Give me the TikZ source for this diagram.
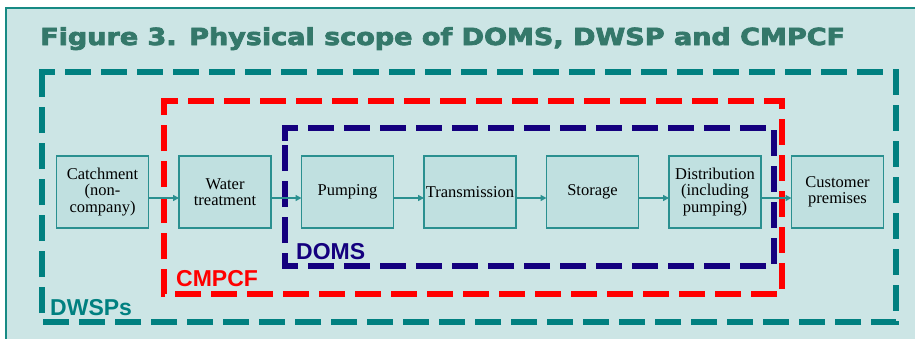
\documentclass[tikz,border=0pt]{standalone}
\usepackage{fontspec}
\setmainfont{Liberation Serif}
\newfontfamily\titlefont{DejaVu Sans}[FakeBold=3]
\newfontfamily\scopefont{Liberation Sans}
\usetikzlibrary{arrows.meta,positioning}
\definecolor{panel}{HTML}{CCE5E5}
\definecolor{frame}{HTML}{178A84}
\definecolor{titletext}{HTML}{34786A}
\definecolor{dwsp}{HTML}{008080}
\definecolor{cmpcf}{HTML}{FF0000}
\definecolor{doms}{HTML}{14007E}
\definecolor{stagefill}{HTML}{C0E0E0}
\definecolor{stageline}{HTML}{2A9090}

\begin{document}
\begin{tikzpicture}[x=1pt,y=-1pt,
  stage/.style={draw=stageline,line width=1.2pt,fill=stagefill,minimum width=92pt,
    minimum height=72pt,inner sep=0pt,outer sep=0pt,text width=90pt,align=center,
    font=\fontsize{16.5}{16.5}\selectfont},
  flow/.style={-{Triangle[length=6pt,width=6pt]},draw=stageline,line width=2pt},
  scope/.style={line width=6.5pt,dash pattern=on 26pt off 10pt},
  scopelabel/.style={anchor=base west,inner sep=0pt,font=\scopefont\bfseries\fontsize{23}{23}\selectfont}]
  \useasboundingbox (0,0) rectangle (915,338);

  % Panel and title
  \fill[white] (0,0) rectangle (915,338);
  \draw[frame,fill=panel,line width=2pt] (6,8) rectangle (930,350);
  \node[anchor=base west,inner sep=0pt,titletext,font=\titlefont\bfseries\fontsize{23.5}{28}\selectfont]
    (title) at (40,45) {\scalebox{1.15}[1]{Figure 3. Physical scope of DOMS, DWSP and CMPCF}};

  % Scope boundaries
  \draw[scope,dwsp] (42,85) -- (42,72) -- (896,72) -- (896,322) -- (42,322) -- cycle;
  \draw[scope,cmpcf] (164,113) -- (164,101) -- (782,101) -- (782,294) -- (164,294) -- cycle;
  \draw[scope,doms] (285,141) -- (285,128) -- (774,128) -- (774,266) -- (285,266) -- cycle;
  \node[scopelabel,dwsp] (dwsplabel) at (50,315.5) {DWSPs};
  \node[scopelabel,cmpcf] (cmpcflabel) at (176,286) {CMPCF};
  \node[scopelabel,doms] (domslabel) at (296,259) {DOMS};

  % Stages of supply
  \node[stage] (catch) at (102.5,192) {Catchment\\(non-\\company)};
  \node[stage,right=30.5pt of catch] (treat) {Water\\treatment};
  \node[stage,right=30.5pt of treat] (pump) {Pumping};
  \node[stage,right=30.5pt of pump] (trans) {Transmission};
  \node[stage,right=30.5pt of trans] (store) {Storage};
  \node[stage,right=30.5pt of store] (distr) {Distribution\\(including\\pumping)};
  \node[stage,right=30.5pt of distr] (cust) {Customer\\premises};

  % Flow
  \foreach \a/\b in {catch/treat,treat/pump,pump/trans,trans/store,store/distr,distr/cust}
    \draw[flow] ([yshift=-6pt]\a.east) -- ([yshift=-6pt]\b.west);
\end{tikzpicture}
\end{document}
